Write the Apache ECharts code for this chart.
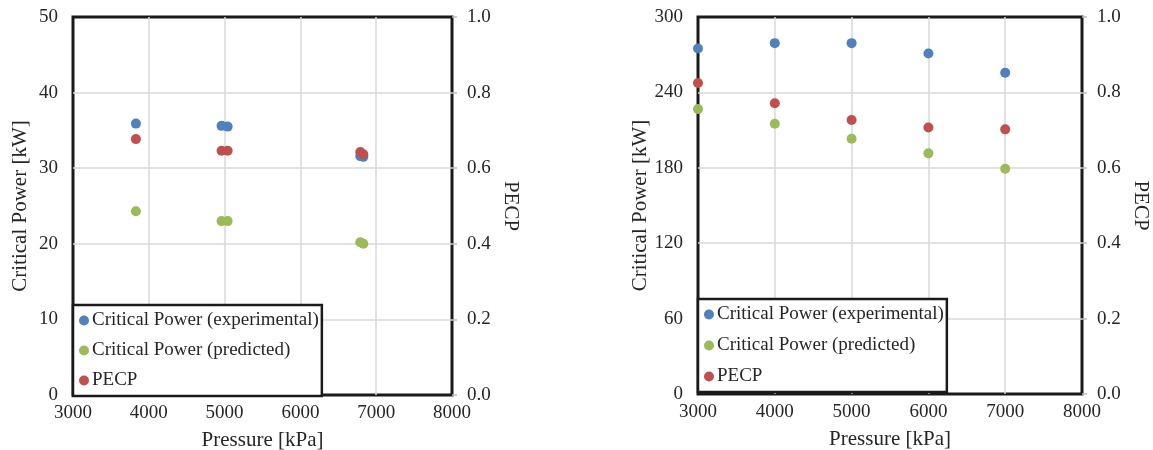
<!DOCTYPE html>
<html>
<head>
<meta charset="utf-8">
<script src="https://cdn.jsdelivr.net/npm/echarts@6/dist/echarts.min.js"></script>
<style>
  html, body { margin: 0; padding: 0; background: #fff; }
  #chart { width: 1153px; height: 450px; }
</style>
</head>
<body>
<div id="chart"></div>
<script>
// left panel
const pressureA = [3830, 4960, 5040, 6790, 6830];
const expA = [35.9, 35.6, 35.5, 31.6, 31.5];
const predA = [24.3, 23.0, 23.0, 20.2, 20.0];
const pecpA = [0.677, 0.646, 0.646, 0.643, 0.637];

// right panel
const pressureB = [3000, 4000, 5000, 6000, 7000];
const expB = [275.0, 279.2, 279.2, 271.0, 255.6];
const predB = [226.7, 215.0, 203.1, 191.5, 179.2];
const pecpB = [0.825, 0.771, 0.727, 0.707, 0.702];

const seriesNames = ['Critical Power (experimental)', 'Critical Power (predicted)', 'PECP'];
const colors = ['#4F81BD', '#9BBB59', '#C0504D'];

const FONT = 'Liberation Serif';
const TEXT = '#262626';
const GRIDLINE = { color: '#d9d9d9', width: 1.5 };

const chart = echarts.init(document.getElementById('chart'));

function xAxis(gridIndex) {
  return {
    type: 'value', gridIndex: gridIndex,
    min: 3000, max: 8000, interval: 1000,
    name: 'Pressure [kPa]', nameLocation: 'middle', nameGap: 35,
    nameTextStyle: { fontFamily: FONT, fontSize: 21, color: TEXT },
    axisLine: { show: false },
    axisTick: { show: false },
    axisLabel: { fontFamily: FONT, fontSize: 19, color: TEXT, margin: 9,
      formatter: v => String(v) },
    splitLine: { showMinLine: false, showMaxLine: false, lineStyle: GRIDLINE }
  };
}

function leftY(gridIndex, max, interval) {
  return {
    type: 'value', gridIndex: gridIndex, position: 'left',
    min: 0, max: max, interval: interval,
    name: 'Critical Power [kW]', nameLocation: 'middle', nameGap: 42, nameRotate: 90,
    nameTextStyle: { fontFamily: FONT, fontSize: 21, color: TEXT },
    axisLine: { show: false },
    axisTick: { show: false },
    axisLabel: { fontFamily: FONT, fontSize: 19, color: TEXT, margin: 15 },
    splitLine: { showMinLine: false, showMaxLine: false, lineStyle: GRIDLINE }
  };
}

function rightY(gridIndex) {
  return {
    type: 'value', gridIndex: gridIndex, position: 'right',
    min: 0, max: 1, interval: 0.2,
    name: 'PECP', nameLocation: 'middle', nameGap: 48, nameRotate: -90,
    nameTextStyle: { fontFamily: FONT, fontSize: 21, color: TEXT },
    axisLine: { show: false },
    axisTick: { show: true, length: 5, lineStyle: { color: '#bfbfbf', width: 1.5 } },
    axisLabel: { fontFamily: FONT, fontSize: 19, color: TEXT, margin: 15,
      formatter: v => v.toFixed(1) },
    splitLine: { show: false }
  };
}

function scatter(name, xs, ys, color, xIdx, yIdx) {
  return {
    name: name, type: 'scatter',
    xAxisIndex: xIdx, yAxisIndex: yIdx,
    symbolSize: 10, clip: false,
    itemStyle: { color: color, opacity: 1 },
    data: xs.map((x, i) => [x, ys[i]])
  };
}

function legend(left, top, gap) {
  return {
    orient: 'vertical', left: left, top: top,
    data: seriesNames,
    icon: 'circle', itemWidth: 10, itemHeight: 10, itemGap: gap,
    padding: [6, 3, 6, 6],
    backgroundColor: '#fff',
    borderColor: '#1a1a1a', borderWidth: 2.5,
    textStyle: { fontFamily: FONT, fontSize: 19, color: TEXT, padding: [0, 0, 0, -2] },
    z: 10
  };
}

const option = {
  backgroundColor: '#fff',
  animation: false,
  grid: [
    { left: 73, top: 17, width: 379, height: 378, outerBoundsMode: 'none',
      show: true, borderColor: '#1a1a1a', borderWidth: 3 },
    { left: 698, top: 17, width: 384, height: 377, outerBoundsMode: 'none',
      show: true, borderColor: '#1a1a1a', borderWidth: 3 }
  ],
  legend: [legend(73, 305, 11), legend(698, 299, 12)],
  xAxis: [xAxis(0), xAxis(1)],
  yAxis: [leftY(0, 50, 10), rightY(0), leftY(1, 300, 60), rightY(1)],
  series: [
    scatter(seriesNames[0], pressureA, expA, colors[0], 0, 0),
    scatter(seriesNames[1], pressureA, predA, colors[1], 0, 0),
    scatter(seriesNames[2], pressureA, pecpA, colors[2], 0, 1),
    scatter(seriesNames[0], pressureB, expB, colors[0], 1, 2),
    scatter(seriesNames[1], pressureB, predB, colors[1], 1, 2),
    scatter(seriesNames[2], pressureB, pecpB, colors[2], 1, 3)
  ]
};

chart.setOption(option);
</script>
</body>
</html>
